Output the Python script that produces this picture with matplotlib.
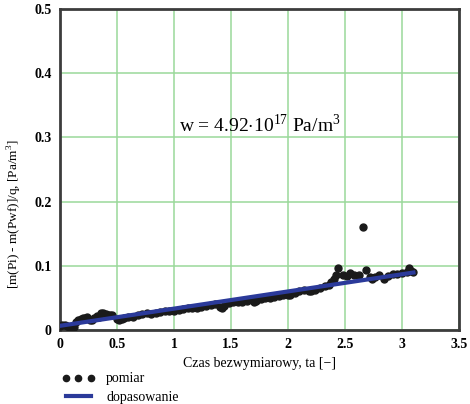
import matplotlib.pyplot as plt

ta = [0.00, 0.02, 0.04, 0.06, 0.08, 0.10, 0.12, 0.14, 0.16, 0.18,
      0.20, 0.22, 0.24, 0.26, 0.28, 0.30, 0.32, 0.34, 0.36, 0.38,
      0.40, 0.42, 0.44, 0.46, 0.50, 0.52, 0.54, 0.56, 0.60, 0.64,
      0.68, 0.72, 0.76, 0.80, 0.84, 0.88, 0.92, 0.96, 1.00, 1.04,
      1.08, 1.12, 1.16, 1.20, 1.24, 1.28, 1.32, 1.36, 1.40, 1.42,
      1.44, 1.48, 1.52, 1.56, 1.60, 1.64, 1.68, 1.70, 1.72, 1.76,
      1.80, 1.84, 1.88, 1.92, 1.96, 2.00, 2.02, 2.06, 2.10, 2.14,
      2.18, 2.20, 2.24, 2.28, 2.32, 2.36, 2.38, 2.40, 2.42, 2.44,
      2.48, 2.52, 2.54, 2.58, 2.62, 2.66, 2.68, 2.72, 2.74, 2.76,
      2.80, 2.84, 2.88, 2.92, 2.96, 3.00, 3.04, 3.06, 3.08, 3.10]
dp = [0.006, 0.007, 0.008, 0.006, 0.004, 0.002, 0.005, 0.012, 0.016, 0.017,
      0.018, 0.019, 0.020, 0.016, 0.015, 0.019, 0.022, 0.020, 0.026, 0.027,
      0.025, 0.024, 0.023, 0.024, 0.017, 0.016, 0.017, 0.018, 0.020, 0.021,
      0.024, 0.025, 0.026, 0.025, 0.027, 0.028, 0.029, 0.030, 0.030, 0.031,
      0.032, 0.034, 0.035, 0.035, 0.036, 0.037, 0.039, 0.040, 0.036, 0.034,
      0.037, 0.042, 0.043, 0.043, 0.044, 0.045, 0.046, 0.043, 0.045, 0.048,
      0.050, 0.050, 0.052, 0.053, 0.054, 0.055, 0.054, 0.057, 0.060, 0.062,
      0.061, 0.060, 0.063, 0.066, 0.068, 0.070, 0.075, 0.079, 0.085, 0.097,
      0.086, 0.084, 0.089, 0.085, 0.086, 0.160, 0.094, 0.082, 0.079, 0.083,
      0.085, 0.080, 0.084, 0.087, 0.087, 0.088, 0.091, 0.097, 0.092, 0.090]

# fitted line
fit_x = [0.0, 3.1]
fit_y = [0.0065, 0.0895]

label_text = r'w = 4.92$\cdot$10$^{17}$ Pa/m$^3$'

plt.rcParams['font.family'] = ['Liberation Serif', 'DejaVu Serif']
plt.rcParams['mathtext.fontset'] = 'custom'
plt.rcParams['mathtext.rm'] = 'Liberation Serif'

fig = plt.figure(figsize=(4.7, 4.04), dpi=100)
ax = fig.add_axes([0.1277, 0.1832, 0.849, 0.7945])

ax.plot(ta, dp, 'o', ls='none', color='#1a1a1a', ms=5, mec='#1a1a1a',
        label='pomiar', zorder=3)
ax.plot(fit_x, fit_y, color='#2b3a9a', lw=3, label='dopasowanie', zorder=4)

ax.set_xlim(0, 3.5)
ax.set_ylim(0, 0.5)
ax.set_xticks([0, 0.5, 1, 1.5, 2, 2.5, 3, 3.5])
ax.set_xticklabels(['0', '0.5', '1', '1.5', '2', '2.5', '3', '3.5'])
ax.set_yticks([0, 0.1, 0.2, 0.3, 0.4, 0.5])
ax.set_yticklabels(['0', '0.1', '0.2', '0.3', '0.4', '0.5'])
ax.tick_params(length=0, labelsize=10, pad=6)
for lab in ax.get_xticklabels() + ax.get_yticklabels():
    lab.set_fontweight('bold')

ax.grid(True, color='#9ad89a', lw=1.1)
ax.set_axisbelow(True)
for s in ax.spines.values():
    s.set_color('#3c3c3c')
    s.set_linewidth(2)

ax.text(1.75, 0.319, label_text, ha='center', va='center', fontsize=14)

ax.set_xlabel('Czas bezwymiarowy, ta [\u2212]', fontsize=10, labelpad=4)
ax.set_ylabel(r'[m(Pi) - m(Pwf)]/q, [Pa/m$^3$]', fontsize=9.5)
ax.yaxis.set_label_coords(-0.09, 0.36)

ax.legend(loc='upper left', bbox_to_anchor=(-0.01, -0.115), frameon=False,
          numpoints=3, fontsize=10, handlelength=2.4, labelspacing=0.4,
          borderaxespad=0, markerscale=0.9)

fig.savefig('out.png', dpi=100)
